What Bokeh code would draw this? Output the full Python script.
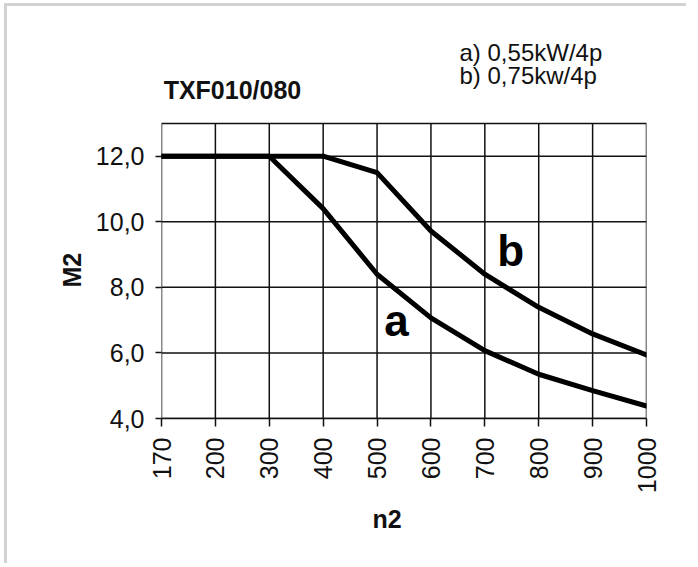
from bokeh.plotting import figure
from bokeh.models import FixedTicker, Range1d, ColumnDataSource, Title
from bokeh.core.properties import value
from bokeh.embed import file_html
from bokeh.resources import INLINE
import math

# Data
n2_labels = ["170", "200", "300", "400", "500", "600", "700", "800", "900", "1000"]
m2_a = [12.0, 12.0, 12.0, 10.4, 8.4, 7.07, 6.07, 5.35, 4.85, 4.38]
m2_b = [12.0, 12.0, 12.0, 12.0, 11.5, 9.72, 8.4, 7.39, 6.58, 5.94]
y_ticks = [4, 6, 8, 10, 12]
y_tick_labels = ["4,0", "6,0", "8,0", "10,0", "12,0"]
y_min, y_grid_top = 4, 13
title_text = "TXF010/080"
legend_lines = ["a) 0,55kW/4p", "b) 0,75kw/4p"]
x_label, y_label = "n2", "M2"

FONT = "Liberation Sans"
INK = "#111111"
xs = list(range(len(n2_labels)))

W, H = 682, 560
p = figure(width=W, height=H, output_backend="svg", toolbar_location=None,
           x_range=Range1d(0, len(n2_labels) - 1), y_range=Range1d(y_min, 15.59),
           min_border_left=154, min_border_right=43, min_border_top=32,
           min_border_bottom=148)
p.styles = {"border-top": "3px solid #d2d2d2", "border-left": "3px solid #d2d2d2",
            "margin-left": "4px", "margin-top": "3px"}
p.outline_line_color = None
p.grid.grid_line_color = None

# axes
p.xaxis.ticker = FixedTicker(ticks=xs)
p.xaxis.major_label_overrides = {i: l for i, l in enumerate(n2_labels)}
p.xaxis.major_label_orientation = math.pi / 2
p.yaxis.ticker = FixedTicker(ticks=y_ticks)
p.yaxis.major_label_overrides = {t: l for t, l in zip(y_ticks, y_tick_labels)}
for ax in (p.xaxis, p.yaxis):
    ax.axis_line_color = INK
    ax.axis_line_width = 1.5
    ax.major_tick_line_color = INK
    ax.major_tick_line_width = 1.5
    ax.major_tick_in = 0
    ax.minor_tick_line_color = None
    ax.major_label_text_font = FONT
    ax.major_label_text_font_size = "25px"
    ax.major_label_text_color = INK
p.yaxis.axis_line_color = None
p.xaxis.major_tick_out = 8
p.yaxis.major_tick_out = 6
p.xaxis.major_label_standoff = 11
p.yaxis.major_label_standoff = 11

# axis names (placed like the reference, off-centre)
p.add_layout(Title(text=y_label, align="left", offset=131, standoff=14,
                   text_font=FONT, text_font_style="bold", text_font_size="25px",
                   text_color=INK), "left")
p.add_layout(Title(text=x_label, align="left", offset=211, standoff=12,
                   text_font=FONT, text_font_style="bold", text_font_size="25px",
                   text_color=INK), "below")

# grid (drawn from tick arrays, ends at the top border y_grid_top)
vsrc = ColumnDataSource(dict(x0=xs, x1=xs, y0=[y_min] * len(xs), y1=[y_grid_top] * len(xs)))
p.segment("x0", "y0", "x1", "y1", source=vsrc, line_color=INK, line_width=1.5)
hy = y_ticks + [y_grid_top]
hsrc = ColumnDataSource(dict(x0=[xs[0]] * len(hy), x1=[xs[-1]] * len(hy), y0=hy, y1=hy))
p.segment("x0", "y0", "x1", "y1", source=hsrc, line_color=INK, line_width=1.5)

src = ColumnDataSource(dict(x=xs, a=m2_a, b=m2_b))
p.line("x", "a", source=src, line_color="black", line_width=5, line_join="round", line_cap="round")
p.line("x", "b", source=src, line_color="black", line_width=5, line_join="round", line_cap="round")

# curve labels
p.text(x=[4.36, 6.48], y=[6.99, 9.11], text=["a", "b"], text_font=value(FONT),
       text_font_style="bold", text_font_size="44px", text_align="center",
       text_baseline="middle", text_color="black")

# title and legend text
p.text(x=[0.04], y=[14.03], text=[title_text], text_font=value(FONT),
       text_font_style="bold", text_font_size="25px", text_align="left",
       text_baseline="middle", text_color=INK)
p.text(x=[5.53, 5.53], y=[15.16, 14.46], text=legend_lines, text_font=value(FONT),
       text_font_size="24px", text_align="left", text_baseline="middle", text_color=INK)

open("out.html", "w").write(file_html(p, INLINE))
